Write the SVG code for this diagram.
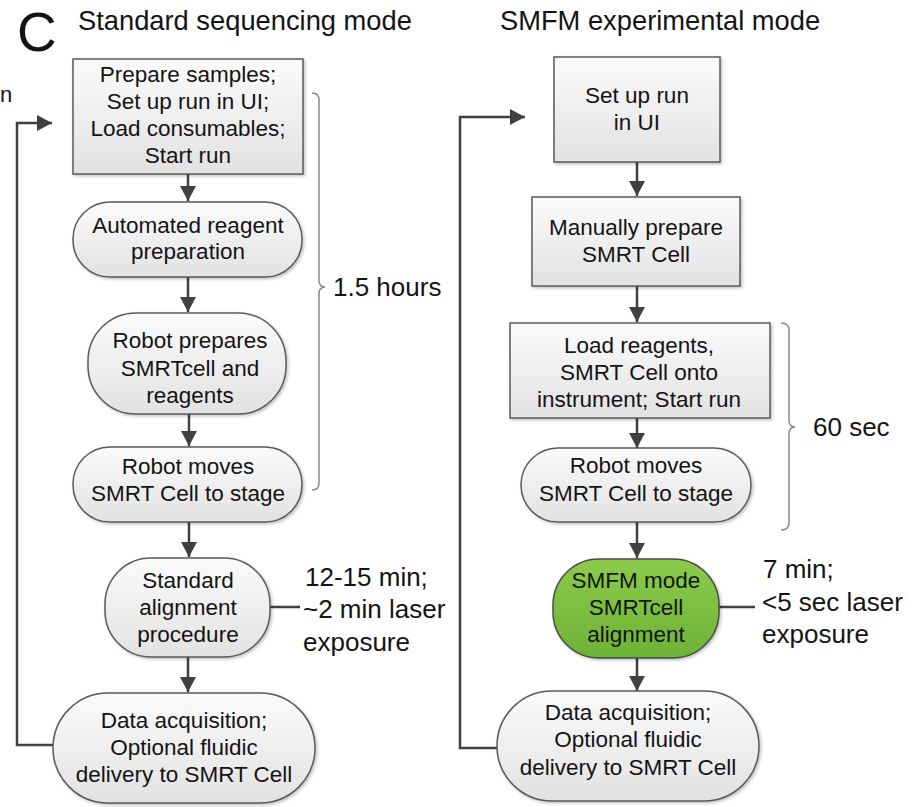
<svg xmlns="http://www.w3.org/2000/svg" width="920" height="807" viewBox="0 0 920 807">
<style>
text{font-family:"Liberation Sans",Arial,sans-serif;fill:#141414}
.nt{font-size:22.5px;text-anchor:middle}
.lab{font-size:26px}
.node{fill:url(#gg);stroke:#5a5a5a;stroke-width:1.5;filter:url(#sh)}
.green{fill:url(#gn);stroke:#4a4a4a;stroke-width:1.5;filter:url(#sh)}
.con{fill:none;stroke:#404040;stroke-width:2.5}
.ar{marker-end:url(#ah)}
.brace{fill:none;stroke:#8a8a8a;stroke-width:1.5}
</style>
<defs>
<linearGradient id="gg" x1="0" y1="0" x2="0" y2="1"><stop offset="0" stop-color="#fbfbfb"/><stop offset="1" stop-color="#e2e2e2"/></linearGradient>
<linearGradient id="gn" x1="0" y1="0" x2="0" y2="1"><stop offset="0" stop-color="#8ccb4a"/><stop offset="1" stop-color="#6cb237"/></linearGradient>
<filter id="sh" x="-10%" y="-10%" width="125%" height="125%"><feDropShadow dx="1.5" dy="1.5" stdDeviation="1.5" flood-color="#000" flood-opacity="0.25"/></filter>
<marker id="ah" viewBox="0 0 15 16" refX="15" refY="8" markerWidth="15" markerHeight="16" markerUnits="userSpaceOnUse" orient="auto"><path d="M0,0 L15,8 L0,16 z" fill="#404040"/></marker>
</defs>
<rect width="920" height="807" fill="#ffffff"/>
<g id="titles">
<text x="17" y="51" style="font-size:55px">C</text>
<text x="78" y="30" style="font-size:27.3px">Standard sequencing mode</text>
<text x="500" y="30" style="font-size:27.3px">SMFM experimental mode</text>
<text x="0" y="102" style="font-size:22px">n</text>
</g>
<g id="connectors">
<path class="con ar" d="M188,168 V201"/>
<path class="con ar" d="M188,277 V312"/>
<path class="con ar" d="M189,414 V446"/>
<path class="con ar" d="M189,522 V557"/>
<path class="con ar" d="M188,657 V692"/>
<path class="con ar" d="M53,745 H17 V123 H52"/>
<path class="con" d="M270,607 H300"/>
<path class="con ar" d="M637,162 V196"/>
<path class="con ar" d="M637,286 V322"/>
<path class="con ar" d="M637,418 V448"/>
<path class="con ar" d="M637,522 V558"/>
<path class="con ar" d="M637,658 V691"/>
<path class="con ar" d="M497,748 H460 V117 H525"/>
<path class="con" d="M719,607 H755"/>
</g>
<g id="braces">
<path class="brace" d="M312,93 Q319,93 319,100 V280 Q319,287 325,287 Q319,287 319,294 V483 Q319,490 312,490"/>
<path class="brace" d="M781,323 Q789,323 789,330 V420 Q789,427 795,427 Q789,427 789,434 V523 Q789,530 781,530"/>
<text class="lab" x="333" y="296">1.5 hours</text>
<text class="lab" x="813" y="436">60 sec</text>
</g>
<g id="s1">
<rect class="node" x="73" y="59" width="230" height="115"/>
<text class="nt" x="188" y="82">Prepare samples;</text>
<text class="nt" x="188" y="109">Set up run in UI;</text>
<text class="nt" x="188" y="136">Load consumables;</text>
<text class="nt" x="188" y="163">Start run</text>
</g>
<g id="s2">
<rect class="node" x="73" y="202" width="229" height="75" rx="37" ry="37"/>
<text class="nt" x="188" y="233">Automated reagent</text>
<text class="nt" x="188" y="259">preparation</text>
</g>
<g id="s3">
<rect class="node" x="88" y="313" width="198" height="101" rx="48" ry="48"/>
<text class="nt" x="190" y="348">Robot prepares</text>
<text class="nt" x="190" y="376">SMRTcell and</text>
<text class="nt" x="190" y="403">reagents</text>
</g>
<g id="s4">
<rect class="node" x="73" y="447" width="229" height="75" rx="37" ry="37"/>
<text class="nt" x="188" y="474">Robot moves</text>
<text class="nt" x="188" y="501">SMRT Cell to stage</text>
</g>
<g id="s5">
<rect class="node" x="105" y="558" width="165" height="99" rx="46" ry="46"/>
<text class="nt" x="188" y="588">Standard</text>
<text class="nt" x="188" y="615">alignment</text>
<text class="nt" x="188" y="642">procedure</text>
</g>
<g id="s5label">
<text class="lab" x="305" y="586">12-15 min;</text>
<text class="lab" x="303" y="618">~2 min laser</text>
<text class="lab" x="303" y="651">exposure</text>
</g>
<g id="s6">
<rect class="node" x="53" y="693" width="262" height="110" rx="55" ry="55"/>
<text class="nt" x="184" y="728">Data acquisition;</text>
<text class="nt" x="184" y="755">Optional fluidic</text>
<text class="nt" x="184" y="782">delivery to SMRT Cell</text>
</g>
<g id="e1">
<rect class="node" x="554" y="57" width="166" height="105"/>
<text class="nt" x="637" y="103">Set up run</text>
<text class="nt" x="637" y="130">in UI</text>
</g>
<g id="e2">
<rect class="node" x="532" y="197" width="208" height="89"/>
<text class="nt" x="636" y="235">Manually prepare</text>
<text class="nt" x="636" y="262">SMRT Cell</text>
</g>
<g id="e3">
<rect class="node" x="510" y="323" width="260" height="95"/>
<text class="nt" x="639" y="353">Load reagents,</text>
<text class="nt" x="639" y="380">SMRT Cell onto</text>
<text class="nt" x="639" y="407">instrument; Start run</text>
</g>
<g id="e4">
<rect class="node" x="521" y="448" width="230" height="74" rx="37" ry="37"/>
<text class="nt" x="636" y="473">Robot moves</text>
<text class="nt" x="636" y="501">SMRT Cell to stage</text>
</g>
<g id="e5">
<rect class="green" x="553" y="559" width="166" height="99" rx="46" ry="46"/>
<text class="nt" x="636" y="588">SMFM mode</text>
<text class="nt" x="636" y="615">SMRTcell</text>
<text class="nt" x="636" y="642">alignment</text>
</g>
<g id="e5label">
<text class="lab" x="763" y="578">7 min;</text>
<text class="lab" x="762" y="611">&lt;5 sec laser</text>
<text class="lab" x="762" y="643">exposure</text>
</g>
<g id="e6">
<rect class="node" x="497" y="691" width="262" height="110" rx="55" ry="55"/>
<text class="nt" x="628" y="720">Data acquisition;</text>
<text class="nt" x="628" y="747">Optional fluidic</text>
<text class="nt" x="628" y="775">delivery to SMRT Cell</text>
</g>
</svg>
